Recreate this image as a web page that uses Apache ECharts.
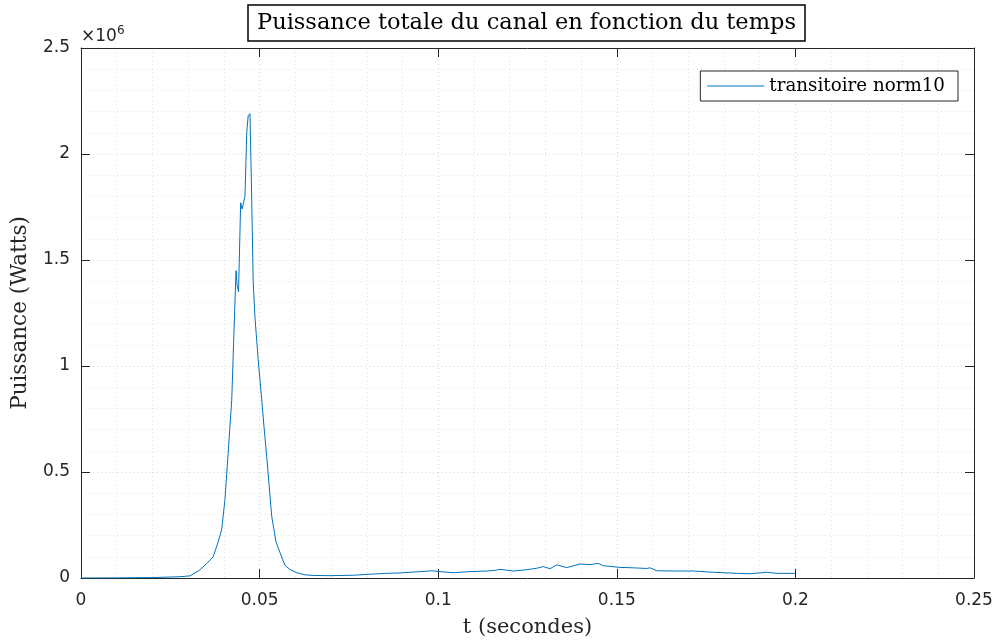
<!DOCTYPE html>
<html>
<head>
<meta charset="utf-8">
<script src="https://cdn.jsdelivr.net/npm/echarts@6/dist/echarts.min.js"></script>
<style>
  html, body { margin: 0; padding: 0; background: #fff; }
  #chart { width: 994px; height: 641px; }
</style>
</head>
<body>
<div id="chart"></div>
<script>
// temps (s)
var temps = [
  0, 0.01, 0.02, 0.0277, 0.0305, 0.0333, 0.0353, 0.0370, 0.0384, 0.0394,
  0.0403, 0.0412, 0.0422, 0.0428, 0.0434, 0.0437, 0.0441, 0.0447, 0.0451, 0.0454,
  0.0459, 0.0464, 0.0468, 0.0473, 0.0478, 0.0482, 0.0487, 0.0496, 0.0506, 0.0512,
  0.0520, 0.0534, 0.0546, 0.0557, 0.0571, 0.0585, 0.0604, 0.0627, 0.0650, 0.0697,
  0.0762, 0.0810, 0.0856, 0.0893, 0.0949, 0.0982, 0.1005, 0.1042, 0.1089, 0.1136,
  0.1159, 0.1173, 0.1210, 0.1243, 0.1276, 0.1294, 0.1313, 0.1332, 0.1360, 0.1397,
  0.1425, 0.1448, 0.1462, 0.1509, 0.1546, 0.1584, 0.1593, 0.1612, 0.1663, 0.1714,
  0.1770, 0.1836, 0.1873, 0.1920, 0.1948, 0.1999
];
// puissance (x10^6 W)
var puissance = [
  0, 0.0005, 0.002, 0.006, 0.010, 0.038, 0.070, 0.100, 0.170, 0.230,
  0.370, 0.590, 0.840, 1.150, 1.450, 1.380, 1.350, 1.770, 1.740, 1.735,
  1.800, 2.100, 2.180, 2.190, 1.780, 1.400, 1.230, 1.030, 0.840, 0.720,
  0.570, 0.290, 0.170, 0.120, 0.060, 0.040, 0.025, 0.015, 0.012, 0.011,
  0.013, 0.018, 0.022, 0.024, 0.030, 0.034, 0.030, 0.025, 0.030, 0.033,
  0.036, 0.041, 0.033, 0.038, 0.046, 0.054, 0.044, 0.062, 0.049, 0.066,
  0.063, 0.069, 0.058, 0.050, 0.048, 0.045, 0.048, 0.034, 0.033, 0.033,
  0.027, 0.022, 0.020, 0.027, 0.022, 0.022
];
var xTicks = ['0', '0.05', '0.1', '0.15', '0.2', '0.25'];
var yTicks = ['0', '0.5', '1', '1.5', '2', '2.5'];

var axisCol = '#262626';
var serif = '"DejaVu Serif", "Liberation Serif", serif';
var sans = '"DejaVu Sans", "Liberation Sans", sans-serif';

var chart = echarts.init(document.getElementById('chart'));

function xAxisDef(pos, showLabel) {
  return {
    type: 'value', position: pos, min: 0, max: 0.25, interval: 0.05,
    axisLine: { show: true, onZero: false, lineStyle: { color: axisCol, width: 1 } },
    axisTick: { show: true, inside: true, length: 9, lineStyle: { color: axisCol } },
    axisLabel: {
      show: showLabel, margin: 14, color: axisCol, fontFamily: sans, fontSize: 17,
      formatter: function (v) { return xTicks[Math.round(v / 0.05)]; }
    },
    splitLine: { show: showLabel, lineStyle: { color: '#d4d4d4', type: [1, 3] } },
    minorTick: { show: showLabel, splitNumber: 5, length: 0 },
    minorSplitLine: { show: showLabel, lineStyle: { color: '#e2e2e2', type: [1, 3] } }
  };
}
function yAxisDef(pos, showLabel) {
  return {
    type: 'value', position: pos, min: 0, max: 2.5, interval: 0.5,
    axisLine: { show: true, onZero: false, lineStyle: { color: axisCol, width: 1 } },
    axisTick: { show: true, inside: true, length: 9, lineStyle: { color: axisCol } },
    axisLabel: {
      show: showLabel, margin: 11, color: axisCol, fontFamily: sans, fontSize: 17,
      formatter: function (v) { return yTicks[Math.round(v / 0.5)]; }
    },
    splitLine: { show: showLabel, lineStyle: { color: '#d4d4d4', type: [1, 3] } },
    minorTick: { show: showLabel, splitNumber: 5, length: 0 },
    minorSplitLine: { show: showLabel, lineStyle: { color: '#e2e2e2', type: [1, 3] } }
  };
}

var xs = [xAxisDef('bottom', true), xAxisDef('top', false)];
xs[0].name = 't (secondes)';
xs[0].nameLocation = 'middle';
xs[0].nameGap = 39;
xs[0].nameTextStyle = { fontFamily: serif, fontSize: 21, color: axisCol };
var ys = [yAxisDef('left', true), yAxisDef('right', false)];
ys[0].name = 'Puissance (Watts)';
ys[0].nameLocation = 'middle';
ys[0].nameGap = 50;
ys[0].nameTextStyle = { fontFamily: serif, fontSize: 21.5, color: axisCol };

chart.setOption({
  animation: false,
  backgroundColor: '#fff',
  title: {
    text: 'Puissance totale du canal en fonction du temps',
    left: 248, top: 5,
    padding: [7, 9, 6, 9],
    borderColor: '#000', borderWidth: 1.5,
    backgroundColor: '#fff',
    textStyle: { fontFamily: serif, fontWeight: 'normal', fontSize: 22.5, color: '#000' }
  },
  legend: {
    right: 36, top: 71,
    padding: [6, 13, 6, 7],
    borderColor: axisCol, borderWidth: 1,
    backgroundColor: '#fff',
    itemWidth: 57, itemHeight: 1, itemGap: 6,
    icon: 'rect',
    textStyle: { fontFamily: serif, fontSize: 18.3, color: '#000' },
    data: ['transitoire norm10']
  },
  graphic: [{
    type: 'text', left: 81, top: 25,
    style: {
      text: '{a|\u00d710}{b|6}',
      rich: {
        a: { fontFamily: sans, fontSize: 17, fill: axisCol, verticalAlign: 'bottom' },
        b: { fontFamily: sans, fontSize: 12, fill: axisCol, verticalAlign: 'top', padding: [0, 0, 8, 0] }
      }
    }
  }],
  grid: { left: 81, right: 20, top: 48, bottom: 63, containLabel: false, outerBoundsMode: 'none' },
  xAxis: xs,
  yAxis: ys,
  series: [{
    name: 'transitoire norm10',
    type: 'line',
    xAxisIndex: 0, yAxisIndex: 0,
    showSymbol: false,
    lineStyle: { color: '#0072BD', width: 1 },
    itemStyle: { color: '#0072BD' },
    data: temps.map(function (t, i) { return [t, puissance[i]]; })
  }]
});
</script>
</body>
</html>
